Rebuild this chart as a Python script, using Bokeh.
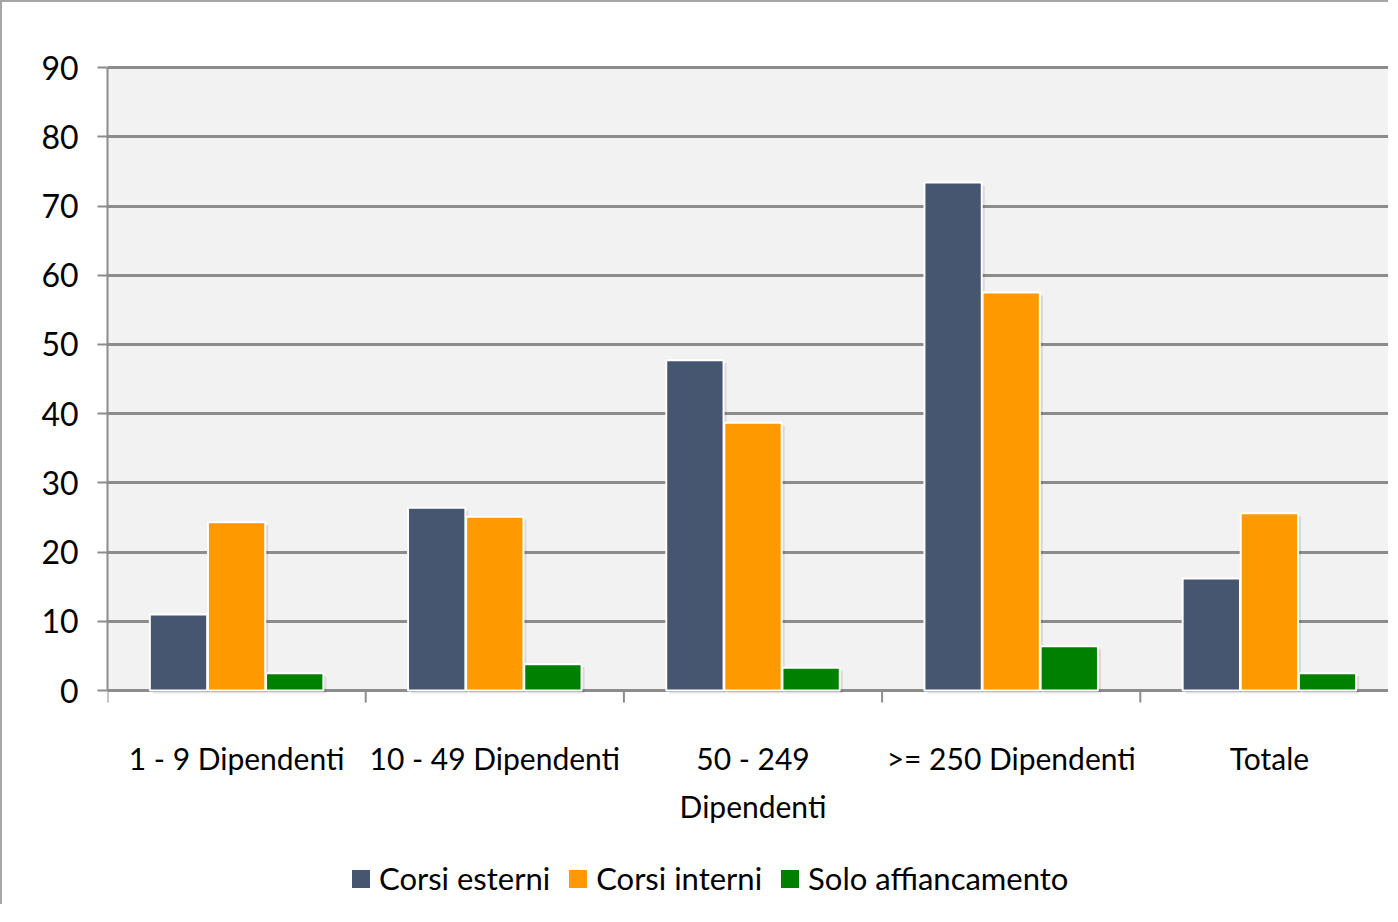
from bokeh.plotting import figure
from bokeh.models import Range1d, FixedTicker, Legend, LegendItem, ColumnDataSource
from bokeh.core.properties import value
from bokeh.embed import file_html
from bokeh.resources import INLINE

categories = ["1 - 9 Dipendenti", "10 - 49 Dipendenti", "50 - 249\nDipendenti", ">= 250 Dipendenti", "Totale"]
corsi_esterni = [11.0, 26.4, 47.7, 73.4, 16.2]
corsi_interni = [24.3, 25.1, 38.7, 57.5, 25.6]
solo_affiancamento = [2.5, 3.8, 3.3, 6.4, 2.5]
series_names = ["Corsi esterni", "Corsi interni", "Solo affiancamento"]
series_colors = ["#465671", "#FF9900", "#008000"]
y_ticks = [0, 10, 20, 30, 40, 50, 60, 70, 80, 90]

FONT = "Lato"
GRID = "#8c8c8c"
PX_PER_UNIT = 841 / 121.5       # vertical pixels per data unit
CAT_PX = 258.2                  # horizontal pixels per category

p = figure(width=1388, height=904, output_backend="svg", toolbar_location=None,
           x_range=Range1d(0, 1283 / CAT_PX), y_range=Range1d(-31.2, 90.3),
           x_axis_location=None,
           min_border_left=105, min_border_right=0, min_border_top=63, min_border_bottom=0)
p.styles = {"border-left": "2px solid #a6a6a6", "border-top": "2px solid #a6a6a6"}
p.background_fill_color = "white"
p.border_fill_color = "white"
p.outline_line_color = None

n = len(categories)
# plot-area background
p.quad(left=[0], right=[n], bottom=[0], top=[max(y_ticks)], fill_color="#f2f2f2",
       line_color=None, level="image")

centers = [i + 0.5 for i in range(n)]
offsets = [-0.225, 0.0, 0.225]
sx = 3 / CAT_PX
sy = 3 / PX_PER_UNIT
renderers = []
for vals, off, col in zip([corsi_esterni, corsi_interni, solo_affiancamento], offsets, series_colors):
    # soft shadow
    p.vbar(x=[c + off + sx for c in centers], top=[v - sy for v in vals], bottom=-sy,
           width=0.222, fill_color="black", fill_alpha=0.10, line_color=None)
    src = ColumnDataSource(dict(x=[c + off for c in centers], top=vals))
    r = p.vbar(x="x", top="top", width=0.222, bottom=0, source=src,
               fill_color=col, line_color="white", line_width=2)
    renderers.append(r)

# x-axis tick marks at category boundaries
bounds = list(range(n + 1))
p.segment(x0=bounds, y0=[0] * len(bounds), x1=bounds, y1=[-12 / PX_PER_UNIT] * len(bounds),
          line_color=GRID, line_width=2)

# y axis
p.yaxis.bounds = (0, max(y_ticks))
p.yaxis.ticker = FixedTicker(ticks=y_ticks)
p.yaxis.major_tick_out = 10
p.yaxis.major_tick_in = 0
p.yaxis.minor_tick_line_color = None
p.yaxis.axis_line_color = GRID
p.yaxis.axis_line_width = 2
p.yaxis.major_tick_line_color = GRID
p.yaxis.major_tick_line_width = 2
p.yaxis.major_label_text_font = FONT
p.yaxis.major_label_text_font_size = "32px"
p.yaxis.major_label_text_color = "black"
p.yaxis.major_label_standoff = 19

p.xgrid.grid_line_color = None
p.ygrid.grid_line_color = GRID
p.ygrid.grid_line_width = 3
p.ygrid.ticker = FixedTicker(ticks=y_ticks)

# category labels (below the axis)
lx, ly, lt = [], [], []
for c, name in zip(centers, categories):
    for j, line in enumerate(name.split("\n")):
        lx.append(c)
        ly.append(-(67 + 48 * j) / PX_PER_UNIT)
        lt.append(line)
p.text(x=lx, y=ly, text=lt, text_align="center", text_baseline="middle",
       text_font=value(FONT), text_font_size="30px", text_color="black")

items = [LegendItem(label=nm, renderers=[r]) for nm, r in zip(series_names, renderers)]
legend = Legend(items=items, orientation="horizontal", location=(241, 9),
                label_text_font=FONT, label_text_font_size="31px", label_text_color="black",
                glyph_width=25, glyph_height=25, label_standoff=6, spacing=15,
                padding=4, margin=0, border_line_color=None, background_fill_alpha=0)
p.add_layout(legend, "center")

open("out.html", "w").write(file_html(p, INLINE))
